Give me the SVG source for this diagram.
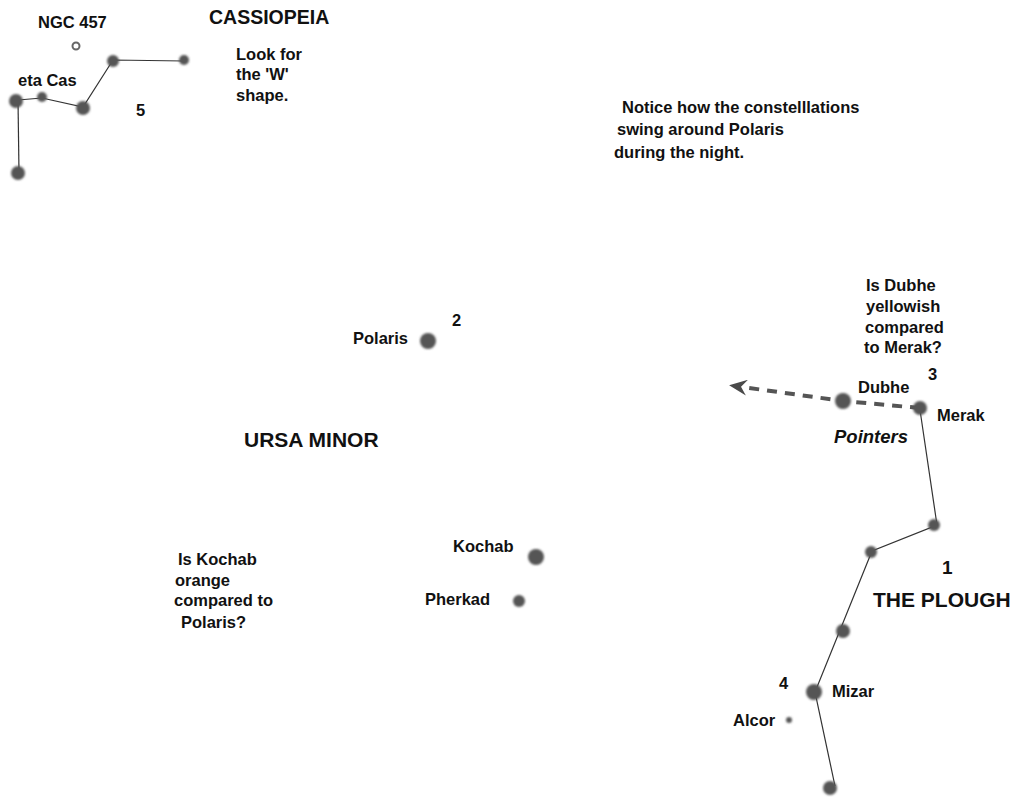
<svg xmlns="http://www.w3.org/2000/svg" width="1018" height="799" viewBox="0 0 1018 799">
<defs>
<filter id="soft" x="-50%" y="-50%" width="200%" height="200%"><feGaussianBlur stdDeviation="0.8"/></filter>
<marker id="ah" viewBox="0 0 18 16" refX="5" refY="8" markerWidth="18" markerHeight="16" markerUnits="userSpaceOnUse" orient="auto"><path d="M18,8 L0,0 L6,8 L0,16 Z" fill="#4a4a4a"/></marker>
</defs>
<style>
text{font-family:"Liberation Sans",Arial,sans-serif;font-weight:bold;fill:#111;font-size:16.5px}
.big{font-size:21px}
.it{font-style:italic;font-size:18.5px}
.star{fill:#555;filter:url(#soft)}
.ln{stroke:#333;stroke-width:1.2;fill:none}
</style>
<rect width="1018" height="799" fill="#fff"/>
<g id="connectors">
<polyline class="ln" points="18,100 42,98 83,107 113,60 184,61"/>
<line class="ln" x1="18" y1="100" x2="19" y2="173"/>
<polyline class="ln" points="920,410 937,525 872,551 815,692 835,786"/>
<path d="M920,408 L843,401 L742,387" fill="none" stroke="#555" stroke-width="4" stroke-dasharray="10,8" marker-end="url(#ah)"/>
</g>
<g id="cassiopeia">
<circle class="star" cx="16" cy="101" r="7"/>
<circle class="star" cx="42" cy="97" r="5"/>
<circle class="star" cx="83" cy="108" r="7"/>
<circle class="star" cx="113" cy="61" r="6"/>
<circle class="star" cx="184" cy="60" r="5"/>
<circle class="star" cx="18" cy="173" r="7"/>
<circle cx="76" cy="46" r="3.5" fill="none" stroke="#666" stroke-width="2"/>
<text x="38" y="28">NGC 457</text>
<text x="18" y="86">eta Cas</text>
<text x="136" y="116">5</text>
<text class="big" x="209" y="24" style="font-size:19.5px">CASSIOPEIA</text>
<text x="236" y="60">Look for</text>
<text x="236" y="80">the 'W'</text>
<text x="236" y="101">shape.</text>
</g>
<g id="notice">
<text x="622" y="113">Notice how the constelllations</text>
<text x="617" y="135">swing around Polaris</text>
<text x="614" y="158">during the night.</text>
</g>
<g id="ursaminor">
<circle class="star" cx="428" cy="341" r="8"/>
<text x="353" y="344">Polaris</text>
<text x="452" y="326">2</text>
<text class="big" x="244" y="447">URSA MINOR</text>
<circle class="star" cx="536" cy="557" r="8"/>
<text x="453" y="552">Kochab</text>
<circle class="star" cx="519" cy="601" r="6"/>
<text x="425" y="605">Pherkad</text>
<text x="178" y="565">Is Kochab</text>
<text x="175" y="586">orange</text>
<text x="174" y="606">compared to</text>
<text x="181" y="628">Polaris?</text>
</g>
<g id="plough">
<text x="866" y="291">Is Dubhe</text>
<text x="866" y="312">yellowish</text>
<text x="865" y="333">compared</text>
<text x="864" y="353">to Merak?</text>
<text x="928" y="380">3</text>
<text x="858" y="393">Dubhe</text>
<circle class="star" cx="843" cy="401" r="8"/>
<circle class="star" cx="920" cy="408" r="7"/>
<text x="937" y="421">Merak</text>
<text class="it" x="834" y="443">Pointers</text>
<circle class="star" cx="934" cy="525" r="6"/>
<circle class="star" cx="871" cy="552" r="6"/>
<circle class="star" cx="843" cy="631" r="7"/>
<circle class="star" cx="814" cy="692" r="8"/>
<circle class="star" cx="830" cy="788" r="7"/>
<circle class="star" cx="789" cy="720" r="3"/>
<text x="942" y="574" style="font-size:19px">1</text>
<text class="big" x="873" y="607">THE PLOUGH</text>
<text x="779" y="689">4</text>
<text x="832" y="697">Mizar</text>
<text x="733" y="726">Alcor</text>
</g>
</svg>
